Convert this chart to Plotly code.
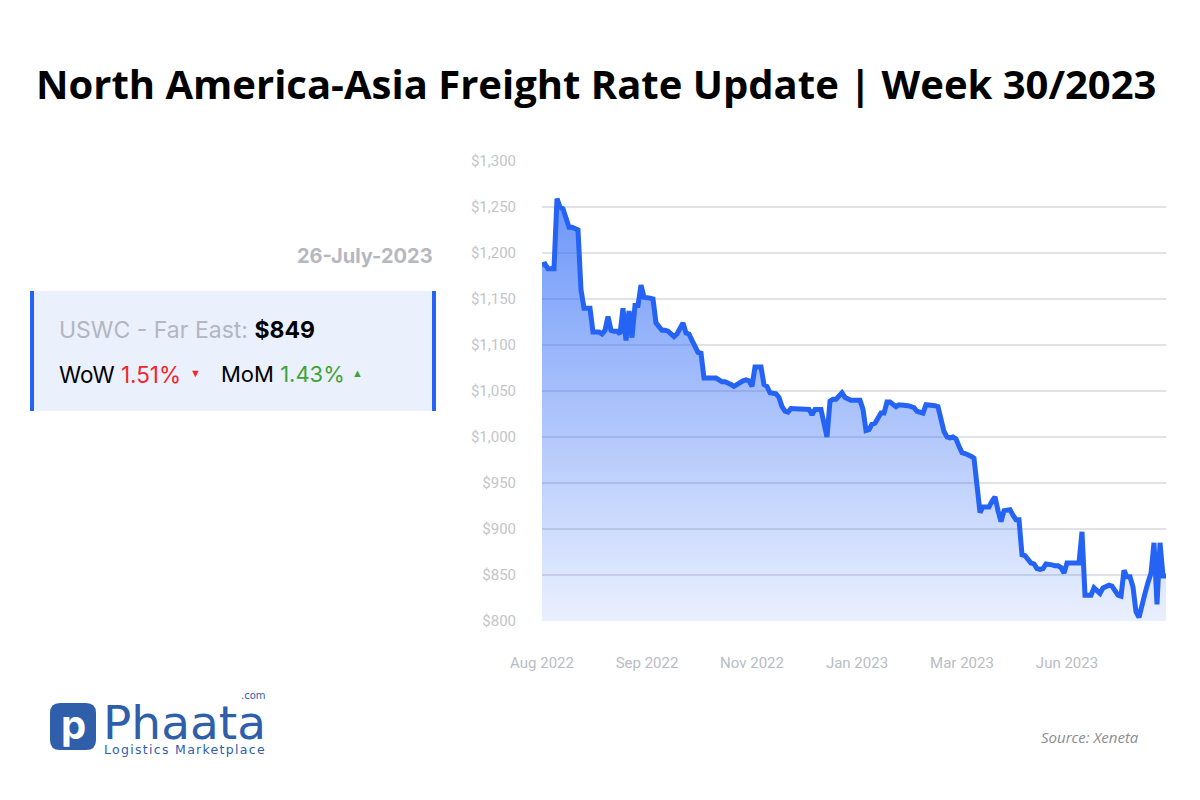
import plotly.graph_objects as go

# ---- data ----
rates = [
    1187, 1188, 1183, 1183, 1183, 1259, 1250, 1248, 1238, 1228,
    1228, 1227, 1225, 1160, 1140, 1140, 1140, 1114, 1114, 1114,
    1112, 1116, 1131, 1116, 1115, 1115, 1112, 1140, 1105, 1137,
    1108, 1143, 1143, 1165, 1152, 1152, 1151, 1150, 1124, 1120,
    1116, 1116, 1115, 1112, 1109, 1112, 1118, 1124, 1113, 1112,
    1105, 1097, 1092, 1091, 1064, 1064, 1064, 1064, 1064, 1062,
    1060, 1060, 1059, 1057, 1055, 1057, 1060, 1061, 1062, 1061,
    1055, 1076, 1076, 1076, 1057, 1055, 1048, 1047, 1047, 1043,
    1033, 1028, 1027, 1031, 1031, 1031, 1031, 1031, 1031, 1030,
    1024, 1030, 1030, 1030, 1015, 1000, 1039, 1041, 1041, 1045,
    1048, 1043, 1041, 1040, 1040, 1040, 1040, 1030, 1007, 1008,
    1014, 1015, 1020, 1026, 1026, 1038, 1038, 1036, 1033, 1035,
    1035, 1034, 1034, 1033, 1032, 1028, 1027, 1026, 1035, 1035,
    1035, 1034, 1033, 1020, 1006, 1000, 999, 1000, 998, 990,
    983, 982, 981, 979, 977, 950, 918, 924, 924, 924,
    930, 935, 920, 908, 920, 921, 921, 915, 910, 910,
    872, 871, 866, 863, 862, 857, 856, 857, 862, 862,
    861, 860, 860, 858, 852, 863, 863, 863, 863, 863,
    897, 828, 828, 828, 836, 832, 830, 836, 837, 839,
    838, 832, 828, 827, 855, 848, 848, 837, 810, 804,
    815, 830, 842, 852, 885, 818, 885, 849, 849,
]
tick_index = [0, 35, 70, 105, 140, 175]
tick_labels = ["Aug 2022", "Sep 2022", "Nov 2022", "Jan 2023", "Mar 2023", "Jun 2023"]
y_ticks = [800, 850, 900, 950, 1000, 1050, 1100, 1150, 1200, 1250, 1300]
y_tick_labels = ["$" + format(v, ",") for v in y_ticks]

title = "North America-Asia Freight Rate Update | Week 30/2023"
date_label = "26-July-2023"
route = "USWC - Far East: "
price = "$849"
wow = "1.51%"
mom = "1.43%"

W, H = 1200, 800
def px(x): return x / W
def py(y): return 1 - y / H

BLUE = "#2563f5"
LOGO = "#2f5faa"

fig = go.Figure()
fig.add_trace(go.Scatter(
    x=list(range(len(rates))), y=rates, mode="lines",
    line=dict(color=BLUE, width=5, shape="linear"),
    fill="tozeroy",
    fillgradient=dict(type="vertical", start=800, stop=1260,
                      colorscale=[[0, "rgba(37,99,245,0.10)"], [1, "rgba(37,99,245,0.67)"]]),
    hoverinfo="skip", showlegend=False,
))

fig.update_layout(
    width=W, height=H, margin=dict(l=0, r=0, t=0, b=0, pad=0, autoexpand=False),
    paper_bgcolor="white", plot_bgcolor="white",
    xaxis=dict(domain=[px(542), px(1166)], range=[0, len(rates) - 1], automargin=False,
               tickvals=tick_index, ticktext=tick_labels, showgrid=False, zeroline=False,
               ticks="outside", ticklen=28, tickcolor="rgba(0,0,0,0)",
               tickfont=dict(family="Roboto, Arial", size=15, color="#b9bcc3"), showline=False),
    yaxis=dict(domain=[py(621), py(161)], range=[800, 1300], automargin=False,
               tickvals=y_ticks, ticktext=y_tick_labels, showgrid=True,
               gridcolor="#e1e2e7", gridwidth=2, zeroline=False,
               ticks="outside", ticklen=22, tickcolor="rgba(0,0,0,0)",
               tickfont=dict(family="Roboto, Arial", size=15, color="#c3c5cb"), showline=False),
)

shapes = []
# card
shapes.append(dict(type="rect", xref="paper", yref="paper", x0=px(31), x1=px(435), y0=py(411), y1=py(291),
                   fillcolor="#ebf0fd", line=dict(width=0), layer="below"))
shapes.append(dict(type="rect", xref="paper", yref="paper", x0=px(30), x1=px(34), y0=py(411), y1=py(291),
                   fillcolor=BLUE, line=dict(width=0)))
shapes.append(dict(type="rect", xref="paper", yref="paper", x0=px(432), x1=px(436), y0=py(411), y1=py(291),
                   fillcolor=BLUE, line=dict(width=0)))
# logo square (rounded)
x0, x1, y0, y1, r = 50, 96, 703, 750, 10
path = (f"M {px(x0+r)},{py(y0)} L {px(x1-r)},{py(y0)} Q {px(x1)},{py(y0)} {px(x1)},{py(y0+r)} "
        f"L {px(x1)},{py(y1-r)} Q {px(x1)},{py(y1)} {px(x1-r)},{py(y1)} L {px(x0+r)},{py(y1)} "
        f"Q {px(x0)},{py(y1)} {px(x0)},{py(y1-r)} L {px(x0)},{py(y0+r)} Q {px(x0)},{py(y0)} {px(x0+r)},{py(y0)} Z")
shapes.append(dict(type="path", xref="paper", yref="paper", path=path, fillcolor=LOGO, line=dict(width=0)))
fig.update_layout(shapes=shapes)

def ann(text, x, y, size, color="black", family="Open Sans", xanchor="left", yanchor="middle", **kw):
    fig.add_annotation(text=text, x=px(x), y=py(y), xref="paper", yref="paper", showarrow=False,
                       xanchor=xanchor, yanchor=yanchor,
                       font=dict(size=size, color=color, family=family), **kw)

ann("<b>" + title + "</b>", 596, 83, 40, xanchor="center", family="Open Sans")
ann("<b>" + date_label + "</b>", 435, 256, 20, color="#b5b8c1", xanchor="right", family="Inter, Open Sans")
ann(f"<span style='color:#b3b6bf'>{route}</span><b>{price}</b>", 57, 330, 23, family="Inter, Open Sans")
ann(f"WoW <span style='color:#f0262b'>{wow}</span>", 57, 374, 22.5, family="Inter, Open Sans")
ann("▼", 195, 372, 11, color="#f0262b", xanchor="center")
ann(f"MoM <span style='color:#3fa33a'>{mom}</span>", 219, 374, 22, family="Inter, Open Sans")
ann("▲", 357, 372, 11, color="#3fa33a", xanchor="center")

# logo text
ann("<b>p</b>", 73, 724, 40, color="white", xanchor="center", family="Inter, Open Sans")
ann("Phaata", 101, 722, 47, color=LOGO, family="DejaVu Sans")
ann(".com", 268, 695, 10, color=LOGO, xanchor="right", family="DejaVu Sans")
ann("<span style='letter-spacing:1.3px'>Logistics Marketplace</span>", 268, 749, 12.5,
    color=LOGO, xanchor="right", family="DejaVu Sans")

ann("<i>Source: Xeneta</i>", 1141, 737, 15, color="#8a8d94", xanchor="right", family="Open Sans")

fig.write_html("out.html")
